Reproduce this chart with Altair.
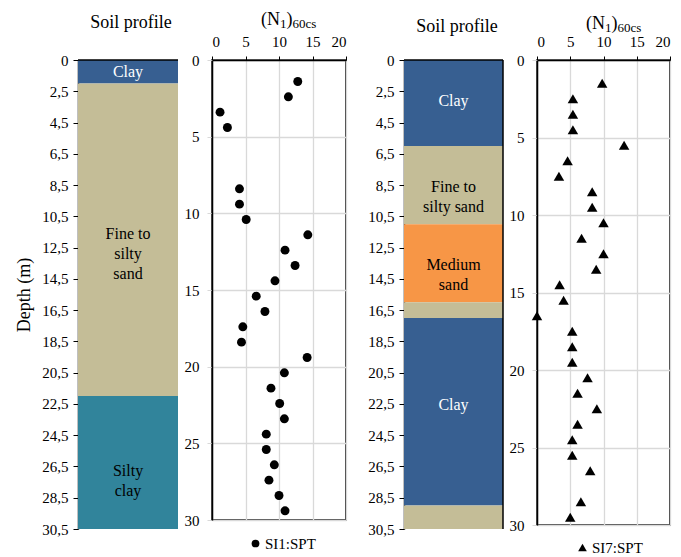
import altair as alt
import pandas as pd

FONT = "Liberation Serif"

# Soil classes and their fill colours
soil_types = ["Clay", "Fine to silty sand", "Medium sand", "Silty clay"]
soil_colors = ["#375F91", "#C4BD97", "#F79646", "#31849B"]

# Borehole SI1 stratigraphy (profile axis units)
si1_soil = ["Clay", "Fine to silty sand", "Silty clay"]
si1_top = [0.0, 1.5, 21.5]
si1_bottom = [1.5, 21.5, 30.0]
si1_label = ["Clay", "Fine to\nsilty\nsand", "Silty\nclay"]
si1_label_depth = [0.75, 11.1, 26.3]
si1_label_color = ["white", "black", "black"]

# Borehole SI7 stratigraphy (profile axis units)
si7_soil = ["Clay", "Fine to silty sand", "Medium sand", "Fine to silty sand",
            "Clay", "Fine to silty sand"]
si7_top = [0.0, 5.5, 10.5, 15.5, 16.5, 28.5]
si7_bottom = [5.5, 10.5, 15.5, 16.5, 28.5, 30.0]
si7_label = ["Clay", "Fine to\nsilty sand", "Medium\nsand", "Clay"]
si7_label_depth = [2.6, 8.1, 13.1, 22.1]
si7_label_color = ["white", "black", "black", "white"]

# Profile axis tick positions (labelled 0, 2,5, 4,5 ... 30,5)
profile_ticks = list(range(0, 31, 2))

# SPT results: corrected blow count (N1)60cs against depth (m)
si1_depth = [1.4, 2.4, 3.4, 4.4, 8.4, 9.4, 10.4, 11.4, 12.4, 13.4, 14.4, 15.4, 16.4,
             17.4, 18.4, 19.4, 20.4, 21.4, 22.4, 23.4, 24.4, 25.4, 26.4, 27.4, 28.4, 29.4]
si1_n = [12.8, 11.4, 1.2, 2.3, 4.1, 4.1, 5.1, 14.3, 10.9, 12.4, 9.4, 6.6, 7.9,
         4.6, 4.4, 14.2, 10.8, 8.8, 10.1, 10.8, 8.1, 8.1, 9.3, 8.5, 10.0, 10.9]

si7_depth = [1.5, 2.5, 3.5, 4.5, 5.5, 6.5, 7.5, 8.5, 9.5, 10.5, 11.5, 12.5, 13.5, 14.5,
             15.5, 16.5, 17.5, 18.5, 19.5, 20.5, 21.5, 22.5, 23.5, 24.5, 25.5, 26.5, 28.5, 29.5]
si7_n = [9.8, 5.4, 5.4, 5.4, 13.1, 4.6, 3.3, 8.3, 8.3, 10.0, 6.7, 10.0, 8.9, 3.4,
         4.0, 0.0, 5.3, 5.3, 5.3, 7.6, 6.1, 9.0, 6.1, 5.3, 5.3, 8.0, 6.6, 5.0]

n_ticks = [0, 5, 10, 15, 20]
depth_ticks = [0, 5, 10, 15, 20, 25, 30]

GRID = "#D9D9D9"


def text_piece(text, size, x, y, align="left"):
    return alt.Chart(pd.DataFrame({"t": [text]})).mark_text(
        font=FONT, fontSize=size, align=align, baseline="alphabetic", color="black"
    ).encode(text="t:N", x=alt.value(x), y=alt.value(y))


def soil_profile(soil, top, bottom, labels, label_depth, label_color,
                 width, height, axis_title, title_y, title_dx, right_border):
    layers = pd.DataFrame({"soil": soil, "top": top, "bottom": bottom})
    texts = pd.DataFrame({"label": labels, "depth": label_depth, "tc": label_color})
    yscale = alt.Scale(domain=[0, 30], reverse=True, nice=False, zero=False)
    yaxis = alt.Axis(
        values=profile_ticks,
        labelExpr="datum.value == 0 ? '0' : replace(format(datum.value + 0.5, '.1f'), '.', ',')",
        domainColor="black", domainWidth=1.5, tickColor="black", tickSize=5,
        tickWidth=1, labelPadding=5, grid=False, titlePadding=8,
    )
    rect = alt.Chart(layers).mark_rect().encode(
        y=alt.Y("top:Q", scale=yscale, axis=yaxis, title=axis_title),
        y2="bottom:Q",
        color=alt.Color("soil:N", scale=alt.Scale(domain=soil_types, range=soil_colors),
                        legend=None),
    )
    txt = alt.Chart(texts).mark_text(font=FONT, fontSize=16, lineBreak="\n",
                                     lineHeight=20).encode(
        y=alt.Y("depth:Q", scale=yscale, axis=yaxis, title=axis_title),
        text="label:N",
        color=alt.Color("tc:N", scale=None),
    )
    border_top = alt.Chart(pd.DataFrame({"k": [0]})).mark_rule(
        color="black", strokeWidth=1.5).encode(
        x=alt.value(0), x2=alt.value(width), y=alt.value(0))
    parts = [rect, txt, border_top]
    if right_border:
        parts.append(alt.Chart(pd.DataFrame({"k": [0]})).mark_rule(
            color="black", strokeWidth=1.5).encode(
            x=alt.value(width), y=alt.value(0), y2=alt.value(height)))
    parts.append(text_piece("Soil profile", 18, width / 2 + title_dx, title_y, "center"))
    return alt.layer(*parts).resolve_scale(color="independent").properties(
        width=width, height=height)


def spt_panel(n, depth, series, shape, size, width, height, legend_x, legend_y,
              symbol_size, title_y):
    df = pd.DataFrame({"n": n, "depth": depth, "series": series})
    pts = alt.Chart(df).mark_point(filled=True, opacity=1, color="black", size=size,
                                   strokeWidth=0).encode(
        x=alt.X("n:Q", scale=alt.Scale(domain=[0, 20], nice=False), title=None,
                axis=alt.Axis(orient="top", values=n_ticks, domainColor="black",
                              domainWidth=1.5, tickColor="black", tickSize=4,
                              labelPadding=7, grid=True, gridColor=GRID, gridWidth=1.3)),
        y=alt.Y("depth:Q", scale=alt.Scale(domain=[0, 30], reverse=True, nice=False),
                title=None,
                axis=alt.Axis(values=depth_ticks, domainColor="black", domainWidth=1.5,
                              tickColor=GRID, tickSize=5, labelPadding=8, grid=True,
                              gridColor=GRID, gridWidth=1.3)),
        shape=alt.Shape("series:N", scale=alt.Scale(range=[shape]),
                        legend=alt.Legend(orient="none", legendX=legend_x, legendY=legend_y,
                                          title=None, symbolFillColor="black",
                                          symbolStrokeColor="black", symbolStrokeWidth=0,
                                          symbolSize=symbol_size, labelFont=FONT,
                                          labelFontSize=15, labelColor="black",
                                          padding=0, labelOffset=2)),
    )
    s = 49
    title = [
        text_piece("(N", 18, s, title_y),
        text_piece("1", 13, s + 19, title_y + 3),
        text_piece(")", 18, s + 25.5, title_y),
        text_piece("60cs", 13, s + 31.5, title_y + 3),
    ]
    return alt.layer(pts, *title).properties(
        width=width, height=height,
        view=alt.ViewBackground(stroke="black", strokeWidth=1.5),
    )


def spacer(width):
    return alt.Chart(pd.DataFrame({"k": [0]})).mark_point(opacity=0).encode(
        x=alt.value(0), y=alt.value(0)).properties(width=width, height=1)


profile_si1 = soil_profile(si1_soil, si1_top, si1_bottom, si1_label, si1_label_depth,
                           si1_label_color, 100, 469, "Depth (m)", -32.2, 3, False)
spt_si1 = spt_panel(si1_n, si1_depth, ["SI1:SPT"] * len(si1_n), "circle", 80, 134, 460,
                    36, 476, 60, -35.5)
profile_si7 = soil_profile(si7_soil, si7_top, si7_bottom, si7_label, si7_label_depth,
                           si7_label_color, 99, 469, None, -28.5, 3.5, True)
spt_si7 = spt_panel(si7_n, si7_depth, ["SI7:SPT"] * len(si7_n), "triangle-up", 110, 133, 465,
                    38, 480, 75, -31.5)

chart = alt.hconcat(
    profile_si1, spacer(1), spt_si1, spacer(25), profile_si7, spacer(1), spt_si7,
    spacing=16.5, bounds="flush",
).resolve_legend(shape="independent").resolve_scale(shape="independent").properties(
    padding={"left": 15, "top": 9, "right": 5, "bottom": 5},
).configure_view(stroke=None).configure_axis(
    labelFont=FONT, labelFontSize=15, labelColor="black",
    titleFont=FONT, titleFontSize=18, titleFontWeight="normal", titleColor="black",
)

chart.save("out.html", embed_options={"renderer": "svg", "actions": False})
